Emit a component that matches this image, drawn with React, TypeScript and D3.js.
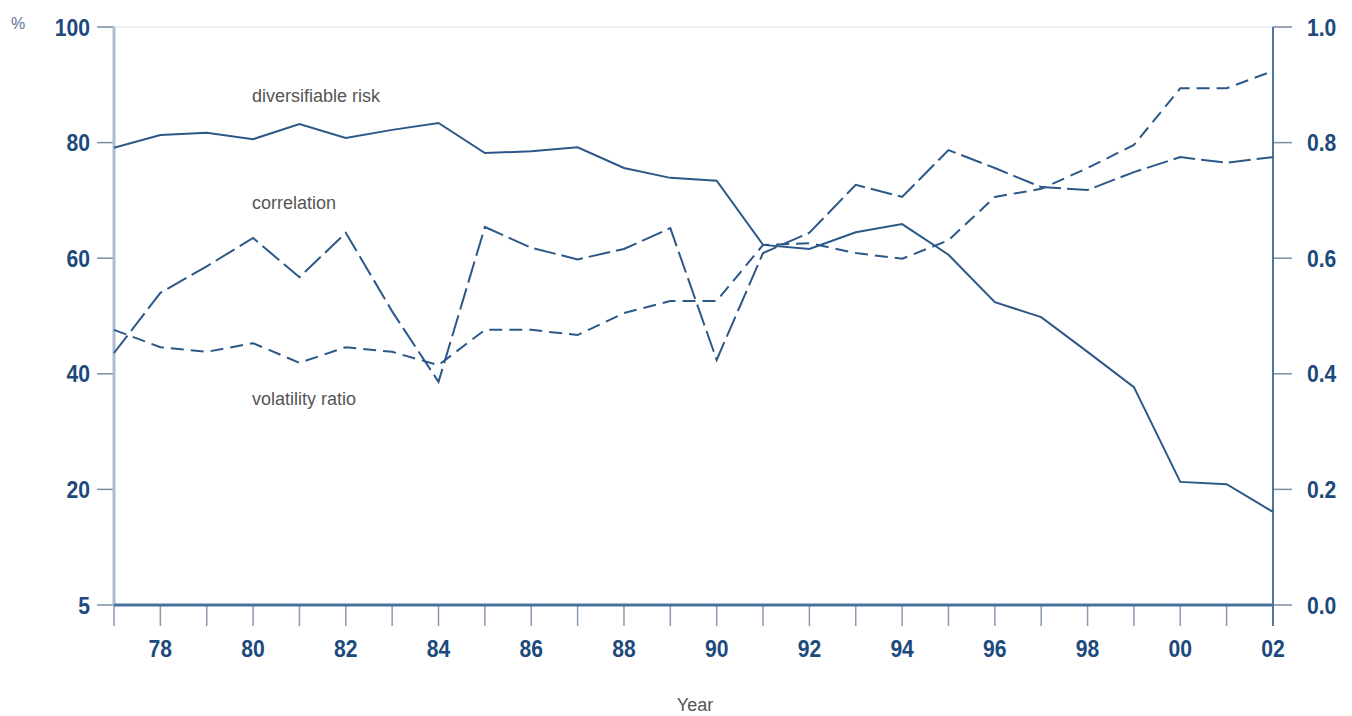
import React from "react";
import * as d3 from "d3";

const years = [1977,1978,1979,1980,1981,1982,1983,1984,1985,1986,1987,1988,1989,1990,1991,1992,1993,1994,1995,1996,1997,1998,1999,2000,2001,2002];
const diversifiableRisk = [79.1,81.3,81.7,80.6,83.2,80.8,82.2,83.4,78.2,78.5,79.2,75.6,73.9,73.4,62.3,61.6,64.5,65.9,60.6,52.4,49.8,43.8,37.7,21.3,20.9,16.1];
const correlation = [43.6,54.0,58.6,63.5,56.7,64.4,50.8,38.6,65.4,61.8,59.8,61.6,65.2,42.4,60.9,64.4,72.7,70.6,78.7,75.6,72.3,71.8,74.9,77.5,76.5,77.5];
const volatilityRatio = [47.6,44.6,43.8,45.3,41.9,44.6,43.8,41.5,47.6,47.6,46.7,50.5,52.6,52.6,62.3,62.6,60.9,59.9,63.1,70.6,72.0,75.6,79.6,89.4,89.4,92.4];
const leftTickValues = [0,20,40,60,80,100];
const leftTickLabels = ["5","20","40","60","80","100"];
const rightTickValues = [0,0.2,0.4,0.6,0.8,1.0];
const rightTickLabels = ["0.0","0.2","0.4","0.6","0.8","1.0"];
const xLabelYears = [1978,1980,1982,1984,1986,1988,1990,1992,1994,1996,1998,2000,2002];

const W = 1352, H = 716;
const L = 114, R = 1273, T = 27, B = 605;
const TICK_COLOR = "#1d4a7c";
const LINE_COLOR = "#2c5888";
const tickFont = "'Liberation Sans Narrow', 'Arial Narrow', 'Liberation Sans', Arial, sans-serif";
const SX = 0.88;

function Tick({ x, y, anchor, children }: { x: number; y: number; anchor: string; children: React.ReactNode }) {
  return (
    <text transform={`translate(${x},${y}) scale(${SX},1)`} dy="0.36em" textAnchor={anchor} fontFamily={tickFont} fontWeight="bold" fontSize={24} fill={TICK_COLOR}>
      {children}
    </text>
  );
}

export default function App() {
  const x = d3.scaleLinear().domain([1977, 2002]).range([L, R]);
  const yL = d3.scaleLinear().domain([0, 100]).range([B, T]);
  const yR = d3.scaleLinear().domain([0, 1]).range([B, T]);
  const line = d3.line<number>().x((_, i) => x(years[i])).y((d) => yL(d));

  const series = [
    { name: "diversifiableRisk", data: diversifiableRisk, dash: "none" },
    { name: "correlation", data: correlation, dash: "22,6" },
    { name: "volatilityRatio", data: volatilityRatio, dash: "13,7" },
  ];

  return (
    <svg width={W} height={H} style={{ position: "absolute", left: 0, top: 0, background: "#fff" }}>
      <line x1={L - 16} x2={R + 19} y1={T} y2={T} stroke="#8a9ab0" strokeWidth={1} opacity={0.3} />
      {leftTickValues.map((v, i) => (
        <g key={"l" + v}>
          <line x1={L - 17} x2={L} y1={yL(v)} y2={yL(v)} stroke="#7d8ea5" strokeWidth={1.5} />
          <Tick x={L - 24} y={yL(v)} anchor="end">{leftTickLabels[i]}</Tick>
        </g>
      ))}
      {rightTickValues.map((v, i) => (
        <g key={"r" + v}>
          <line x1={R} x2={R + 19} y1={yR(v)} y2={yR(v)} stroke="#7d8ea5" strokeWidth={1.5} />
          <Tick x={R + 34} y={yR(v)} anchor="start">{rightTickLabels[i]}</Tick>
        </g>
      ))}
      {years.map((yr) => (
        <line key={"x" + yr} x1={x(yr)} x2={x(yr)} y1={B} y2={B + 21} stroke="#8a9ab0" strokeWidth={1.5} />
      ))}
      {xLabelYears.map((yr) => (
        <Tick key={"xl" + yr} x={x(yr)} y={B + 43} anchor="middle">{String(yr % 100).padStart(2, "0")}</Tick>
      ))}
      <line x1={L} x2={L} y1={T} y2={B} stroke="#aebcd2" strokeWidth={3} />
      <line x1={R} x2={R} y1={T} y2={B + 21} stroke="#4f76a3" strokeWidth={2} />
      <line x1={L} x2={R} y1={B} y2={B} stroke="#4a709c" strokeWidth={3} />
      {series.map((s) => (
        <path key={s.name} d={line(s.data) || ""} fill="none" stroke={LINE_COLOR} strokeWidth={2} strokeDasharray={s.dash} strokeLinejoin="miter" />
      ))}
      <text x={252} y={96} dy="0.36em" fontFamily={tickFont} fontSize={18} fill="#555">diversifiable risk</text>
      <text x={252} y={203} dy="0.36em" fontFamily={tickFont} fontSize={18} fill="#555">correlation</text>
      <text x={252} y={399} dy="0.36em" fontFamily={tickFont} fontSize={18} fill="#555">volatility ratio</text>
      <text x={18} y={23} dy="0.36em" textAnchor="middle" fontFamily={tickFont} fontSize={16} fill="#5a7598">%</text>
      <text x={695} y={705} dy="0.36em" textAnchor="middle" fontFamily={tickFont} fontSize={18} fill="#555">Year</text>
    </svg>
  );
}
